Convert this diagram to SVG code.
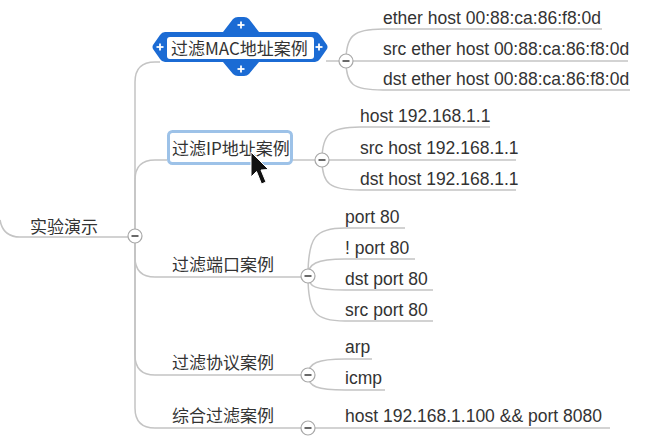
<svg xmlns="http://www.w3.org/2000/svg" width="669" height="441" viewBox="0 0 669 441">
<style>
.ln{fill:none;stroke:#c4c4c4;stroke-width:1.5}
.cj{font-family:"Noto Sans CJK SC","Liberation Sans",sans-serif;font-size:17px;fill:#333}
.lt{font-family:"Liberation Sans","Noto Sans CJK SC",sans-serif;font-size:17.5px;fill:#333}
.cc{fill:#fff;stroke:#a8a8a8;stroke-width:1.2}
.mn{stroke:#444;stroke-width:1.6}
.pl{stroke:#fff;stroke-width:1.8}
</style>
<defs>
<g id="col"><circle class="cc" r="7"/><line class="mn" x1="-3.5" y1="0" x2="3.5" y2="0"/></g>
</defs>
<rect width="669" height="441" fill="#fff"/>
<g id="connectors">
<path class="ln" d="M0,220 Q3,237 20,237 H128"/>
<path class="ln" d="M135,229 V82 Q135,62 155,62 H160"/>
<path class="ln" d="M135,229 V180 Q135,160 155,160 H167"/>
<path class="ln" d="M135,243 V257 Q135,277 155,277 H301"/>
<path class="ln" d="M135,243 V355 Q135,375 155,375 H301"/>
<path class="ln" d="M135,243 V408 Q135,428 155,428 H301"/>
<path class="ln" d="M326,61 H339"/>
<path class="ln" d="M346,61 C346,36 353,29 383,29 H602"/>
<path class="ln" d="M353,61 H628"/>
<path class="ln" d="M346,61 C346,85 353,90 383,90 H630"/>
<path class="ln" d="M291,160 H315"/>
<path class="ln" d="M322,160 C322,134 330,127 360,127 H490"/>
<path class="ln" d="M329,160 H516"/>
<path class="ln" d="M322,160 C322,184 330,190 360,190 H516"/>
<path class="ln" d="M308,276 C308,237 315,228 345,228 H405"/>
<path class="ln" d="M308,276 C308,264 316,259 345,259 H415"/>
<path class="ln" d="M308,276 C308,287 316,290 345,290 H433"/>
<path class="ln" d="M308,276 C308,313 315,321 345,321 H433"/>
<path class="ln" d="M308,375 C308,363 318,359 345,359 H372"/>
<path class="ln" d="M308,375 C308,387 318,390 345,390 H385"/>
<path class="ln" d="M315,428 H610"/>
<use href="#col" x="135" y="236"/>
<use href="#col" x="346" y="61"/>
<use href="#col" x="322" y="160"/>
<use href="#col" x="308" y="276"/>
<use href="#col" x="308" y="375"/>
<use href="#col" x="308" y="428"/>
</g>
<g id="root"><text class="cj" x="30" y="233">实验演示</text></g>
<g id="mac">
<path d="M165,32 H223 L233,19 Q235,17 238,17 H244 Q247,17 249,19 L259,32 H315 Q318,32 320,35 L327,45 Q328,47 327,49 L320,59 Q318,62 315,62 H259 L249,74 Q247,76 244,76 H238 Q235,76 233,74 L223,62 H165 Q162,62 160,59 L153,49 Q152,47 153,45 L160,35 Q162,32 165,32 Z" fill="#1b6bd4"/>
<rect x="167" y="37" width="147" height="22" rx="3" fill="#fff"/>
<text class="cj" x="171" y="55">过滤MAC地址案例</text>
<g class="pl"><line x1="156.5" y1="47" x2="163.5" y2="47"/><line x1="160" y1="43.5" x2="160" y2="50.5"/>
<line x1="315.5" y1="47" x2="322.5" y2="47"/><line x1="319" y1="43.5" x2="319" y2="50.5"/>
<line x1="237.5" y1="25" x2="244.5" y2="25"/><line x1="241" y1="21.5" x2="241" y2="28.5"/>
<line x1="237.5" y1="69" x2="244.5" y2="69"/><line x1="241" y1="65.5" x2="241" y2="72.5"/></g>
</g>
<g id="mac1"><text class="lt" x="383" y="24">ether host 00:88:ca:86:f8:0d</text></g>
<g id="mac2"><text class="lt" x="383" y="55">src ether host 00:88:ca:86:f8:0d</text></g>
<g id="mac3"><text class="lt" x="383" y="85">dst ether host 00:88:ca:86:f8:0d</text></g>
<g id="ip">
<rect x="168.5" y="131.5" width="123" height="32" rx="4" fill="#fff" stroke="#9dc2e8" stroke-width="3"/>
<text class="cj" x="172" y="155">过滤IP地址案例</text>
</g>
<g id="ip1"><text class="lt" x="360" y="122">host 192.168.1.1</text></g>
<g id="ip2"><text class="lt" x="360" y="154">src host 192.168.1.1</text></g>
<g id="ip3"><text class="lt" x="360" y="185">dst host 192.168.1.1</text></g>
<g id="port"><text class="cj" x="172" y="271">过滤端口案例</text></g>
<g id="port1"><text class="lt" x="345" y="223">port 80</text></g>
<g id="port2"><text class="lt" x="345" y="254">! port 80</text></g>
<g id="port3"><text class="lt" x="345" y="285">dst port 80</text></g>
<g id="port4"><text class="lt" x="345" y="316">src port 80</text></g>
<g id="proto"><text class="cj" x="172" y="369">过滤协议案例</text></g>
<g id="proto1"><text class="lt" x="345" y="353">arp</text></g>
<g id="proto2"><text class="lt" x="345" y="384">icmp</text></g>
<g id="combo"><text class="cj" x="172" y="422">综合过滤案例</text></g>
<g id="combo1"><text class="lt" x="345" y="422">host 192.168.1.100 &amp;&amp; port 8080</text></g>
<path d="M251,152 L251,177 L256.5,171.5 L261.5,184 L266,182 L261,170 L268.5,169.5 Z" fill="#111" stroke="#fff" stroke-width="1"/>
</svg>
